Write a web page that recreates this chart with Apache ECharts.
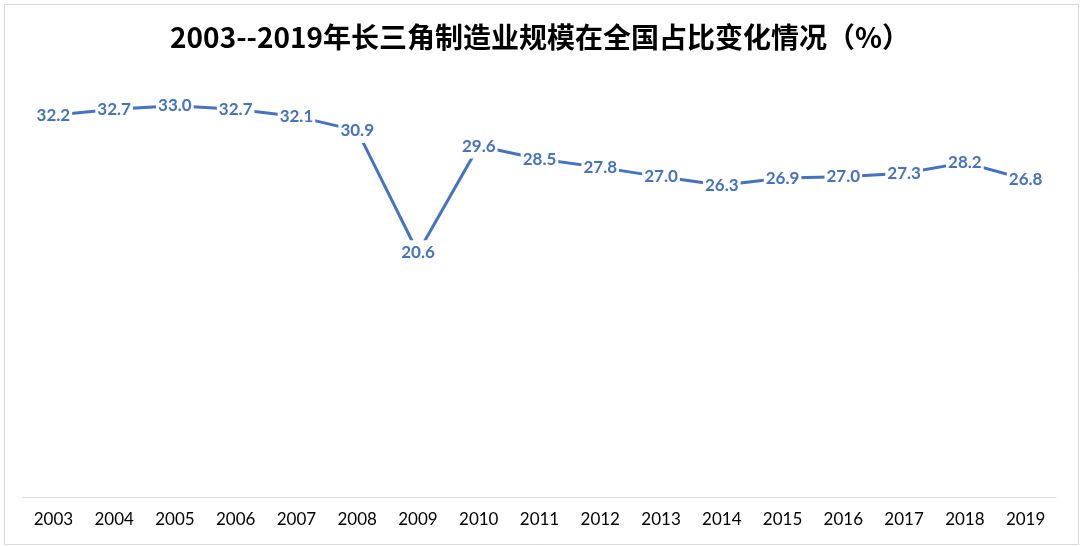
<!DOCTYPE html>
<html><head><meta charset="utf-8">
<script src="https://cdn.jsdelivr.net/npm/echarts@6/dist/echarts.min.js"></script>
<style>html,body{margin:0;padding:0;background:#fff}#c{width:1080px;height:546px}</style>
</head><body><div id="c"></div>
<script>
const titleText = '2003--2019年长三角制造业规模在全国占比变化情况（%）';
const years = ['2003','2004','2005','2006','2007','2008','2009','2010','2011','2012','2013','2014','2015','2016','2017','2018','2019'];
const shares = [32.2,32.7,33.0,32.7,32.1,30.9,20.6,29.6,28.5,27.8,27.0,26.3,26.9,27.0,27.3,28.2,26.8];

const chart = echarts.init(document.getElementById('c'));
chart.setOption({
  animation: false,
  backgroundColor: '#fff',
  graphic: [{
    type: 'rect', left: 2, top: 2,
    shape: { width: 1074, height: 540 },
    style: { fill: 'none', stroke: '#d9d9d9', lineWidth: 1 }
  }],
  title: {
    text: titleText, left: 'center', top: 18,
    textStyle: { fontFamily: '"Noto Sans CJK SC", sans-serif', fontSize: 28, fontWeight: 'bold', color: '#000' }
  },
  grid: { left: 23, right: 24, top: 82, bottom: 49, containLabel: false },
  xAxis: {
    type: 'category', data: years, boundaryGap: true,
    axisLine: { show: true, lineStyle: { color: '#d9d9d9', width: 1 } },
    axisTick: { show: false },
    axisLabel: { color: '#000', fontSize: 17, fontFamily: 'Lato, "Noto Sans", sans-serif', margin: 14 }
  },
  yAxis: {
    type: 'value', min: 0, max: 35, show: false,
    splitLine: { show: false }
  },
  series: [{
    type: 'line', data: shares,
    symbol: 'circle', symbolSize: 2, showSymbol: true,
    lineStyle: { color: '#4472C4', width: 3 },
    itemStyle: { color: '#4472C4' },
    label: {
      show: true, position: 'inside',
      formatter: p => p.value.toFixed(1),
      color: '#4472C4', fontSize: 17, fontWeight: 'bold',
      fontFamily: 'Lato, "Noto Sans", sans-serif',
      backgroundColor: '#fff', padding: [4, 2, 4, 2]
    },
    labelLayout: { hideOverlap: false },
    z: 3
  }]
});
</script></body></html>
